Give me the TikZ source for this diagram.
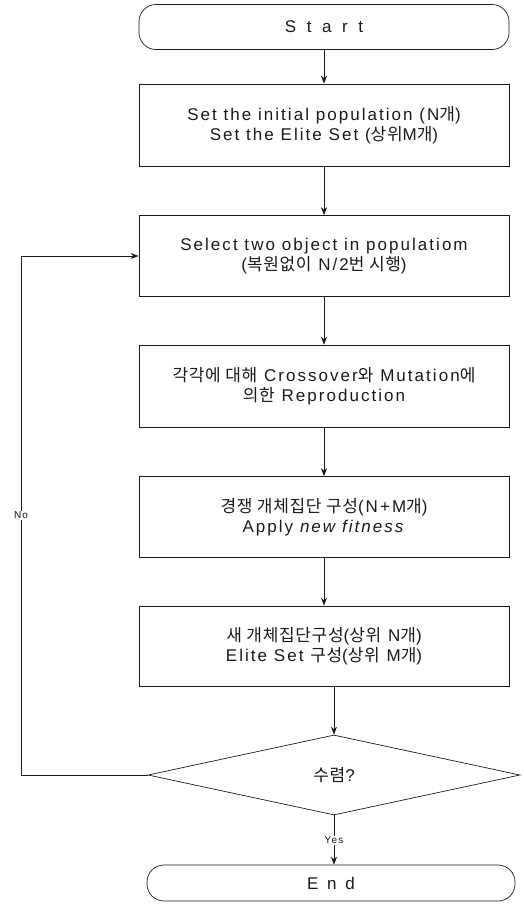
\documentclass[tikz,border=0pt]{standalone}
\usepackage{fontspec}
\setmainfont{Liberation Sans}[LetterSpace=12]
\newfontfamily\krfont{Noto Sans CJK KR}[LetterSpace=4]
\newcommand{\kr}[1]{{\krfont #1}}
\usetikzlibrary{arrows.meta,positioning,shapes.geometric}
\definecolor{ink}{HTML}{1A1A1A}
\tikzset{
  >={Stealth[length=8pt,width=6pt]},
  every node/.style={font=\fontsize{17}{20}\selectfont,text=ink},
  box/.style={draw=ink,line width=0.7pt,minimum width=370pt,minimum height=81pt,align=center,inner sep=4pt},
  term/.style={box,rounded corners=17pt,minimum height=45pt},
  decision/.style={draw=ink,line width=0.7pt,diamond,minimum width=372pt,minimum height=80pt,inner sep=0pt,align=center},
  arrow/.style={->,line width=0.6pt,draw=ink},
  label/.style={font=\fontsize{10}{11}\selectfont,inner sep=1pt,fill=white},
}
\begin{document}
\begin{tikzpicture}[x=1pt,y=1pt]
  \useasboundingbox (0,0) rectangle (524,-906);
  \node[term] (start) at (324,-27) {\addfontfeature{LetterSpace=62}Start};
  \node[box,minimum height=82pt] (init) at (324,-125) {Set the initial population (N\kr{개})\\Set the Elite Set (\kr{상위}M\kr{개})};
  \node[box] (select) at (324,-256) {Select two object in populatiom\\(\kr{복원없이} N/2\kr{번 시행})};
  \node[box,minimum height=82pt] (repro) at (324,-386) {\kr{각각에 대해} Crossover\kr{와} Mutation\kr{에}\\\kr{의한} Reproduction};
  \node[box] (compete) at (324,-517) {\kr{경쟁 개체집단 구성}(N+M\kr{개})\\Apply \textit{new fitness}};
  \node[box,minimum height=80pt] (newpop) at (324,-646) {\kr{새 개체집단구성}(\kr{상위} N\kr{개})\\Elite Set \kr{구성}(\kr{상위} M\kr{개})};
  \node[decision] (conv) at (334,-775) {\kr{수렴}?};
  \node[term,minimum width=368pt,minimum height=36pt] (finish) at (331,-883) {\addfontfeature{LetterSpace=52}End};
  \coordinate (loop) at (21,-775);

  \draw[arrow] (start) -- (init);
  \draw[arrow] (init) -- (select);
  \draw[arrow] (select) -- (repro);
  \draw[arrow] (repro) -- (compete);
  \draw[arrow] (compete) -- (newpop);
  \draw[arrow] (newpop.south -| conv.north) -- (conv.north);
  \draw[arrow] (conv.south) -- node[label]{Yes} (conv.south |- finish.north);
  \draw[arrow] (conv.west) -- (loop) -- node[label,pos=0.5]{No} (loop |- select.west) -- (select.west);
\end{tikzpicture}
\end{document}
